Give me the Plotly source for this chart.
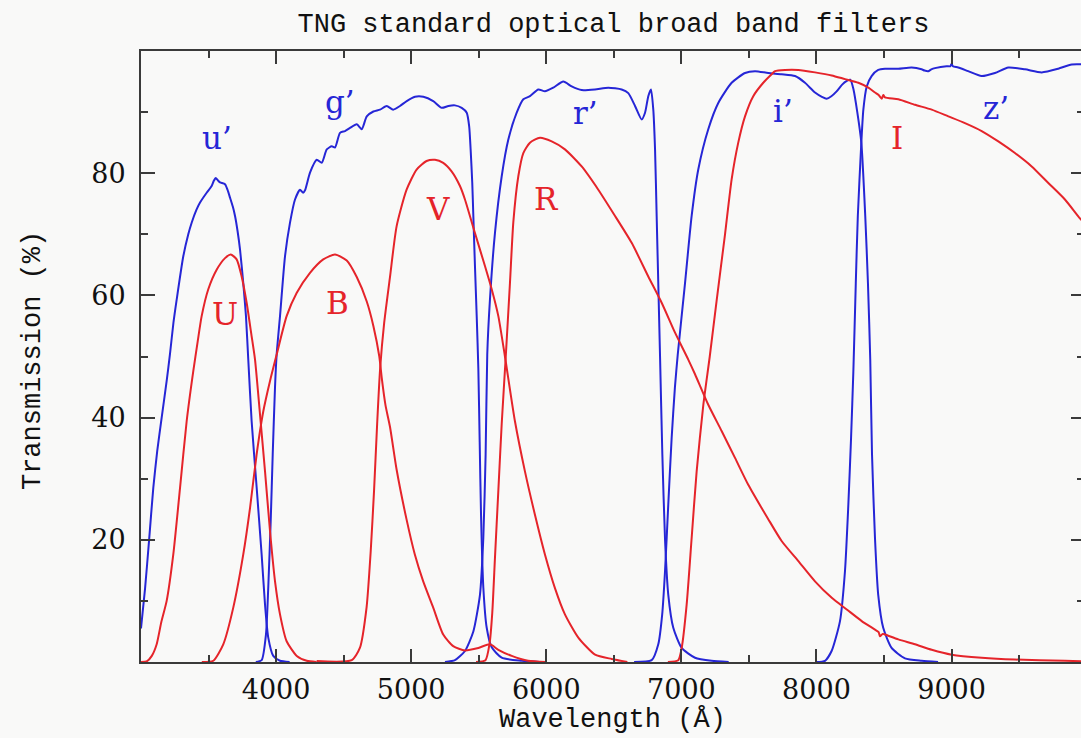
import plotly.graph_objects as go

# ---------------- data (wavelength in Angstrom, transmission in %) ----------------
u_prime_wl = [3000, 3030, 3060, 3091, 3120, 3153, 3190, 3215, 3240, 3264, 3313, 3350, 3375, 3410, 3437,
              3486, 3523, 3540, 3553, 3570, 3585, 3622, 3640, 3659, 3680, 3696, 3715, 3733, 3757, 3777,
              3794, 3819, 3856, 3893, 3918, 3942, 3979, 4029, 4100]
u_prime_t = [5.5, 12, 20, 28.5, 34.5, 40, 46, 50.5, 55.5, 59.3, 66.4, 70, 71.9, 74, 75.2,
             76.8, 77.9, 78.8, 79.2, 78.8, 78.5, 78.2, 77.3, 76, 74.5, 73, 70.5, 67.5, 62, 56.6,
             49.5, 39.4, 28.6, 17.6, 9.4, 4, 1, 0.2, 0]

g_prime_wl = [3850, 3893, 3925, 3942, 3960, 3975, 3992, 4004, 4029, 4066, 4103, 4140, 4177, 4200, 4214,
              4251, 4301, 4338, 4375, 4412, 4436, 4473, 4510, 4547, 4597, 4634, 4671, 4720, 4769, 4819,
              4867, 4917, 4967, 5028, 5090, 5163, 5226, 5275, 5324, 5374, 5411, 5429, 5440, 5452, 5460,
              5472, 5485, 5497, 5507, 5517, 5534, 5559, 5596, 5670, 5818, 5950]
g_prime_t = [0, 0.3, 4.5, 12.2, 23, 34, 45, 50.3, 56.6, 66.4, 71.9, 75.7, 77.3, 76.8, 77.2,
             80.1, 82.2, 81.7, 83.9, 84.4, 84.2, 86.6, 86.9, 87.4, 88, 87.2, 89.3, 90.1, 90.4, 91,
             90.4, 91, 91.8, 92.5, 92.5, 91.8, 90.7, 91, 91.1, 90.7, 89.9, 87.7, 83.9, 78.4, 73,
             64.8, 56.6, 48, 36, 24, 12.2, 5.6, 2.4, 0.7, 0.2, 0]

r_prime_wl = [5250, 5324, 5398, 5460, 5509, 5534, 5551, 5563, 5583, 5620, 5670, 5719, 5781, 5830, 5879,
              5941, 5990, 6052, 6126, 6188, 6262, 6360, 6459, 6558, 6607, 6657, 6706, 6731, 6755, 6775,
              6792, 6805, 6817, 6829, 6842, 6859, 6879, 6903, 6940, 7002, 7101, 7224, 7350]
r_prime_t = [0, 0.3, 1.8, 5, 11, 20.4, 34, 50.3, 59.3, 70.2, 79.5, 85.5, 89.9, 92.1, 92.6,
             93.7, 93.4, 94, 95, 94.2, 93.6, 93.7, 94, 93.7, 93.1, 91, 88.8, 89.9, 92.6, 93.7,
             90.4, 83.9, 73, 62, 50, 34, 20, 11, 5.6, 2.3, 0.7, 0.2, 0]

i_prime_wl = [6650, 6780, 6829, 6858, 6879, 6903, 6928, 6952, 6973, 7027, 7076, 7125, 7199, 7273, 7372,
              7471, 7545, 7643, 7742, 7841, 7915, 7989, 8040, 8075, 8110, 8149, 8190, 8225, 8250, 8274,
              8302, 8332, 8361, 8381, 8398, 8411, 8433, 8457, 8494, 8556, 8655, 8779, 8900]
i_prime_t = [0, 0.3, 2.9, 7.8, 14.9, 25.8, 36.7, 44.9, 50.3, 62, 73, 80.6, 87.2, 91.5, 94.8,
             96.4, 96.7, 96.4, 96.2, 95.9, 94.8, 93.2, 92.5, 92.2, 92.6, 93.4, 94.5, 95.1, 95.3, 93.7,
             90, 85, 73, 62, 49.5, 34, 20.3, 11, 5.6, 2.3, 0.6, 0.2, 0]

z_prime_wl = [8000, 8063, 8112, 8174, 8211, 8236, 8256, 8273, 8291, 8306, 8332, 8347, 8372, 8408, 8457,
              8507, 8606, 8704, 8778, 8800, 8827, 8850, 8877, 8963, 8990, 9000, 9010, 9049, 9123, 9222,
              9321, 9420, 9543, 9667, 9790, 9889, 10000]
z_prime_t = [0, 0.2, 1.8, 6.7, 14.9, 25.8, 36.7, 47.6, 62, 73, 85, 90.4, 94.2, 95.9, 96.9,
             97.1, 97.1, 97.3, 97, 96.8, 96.7, 97, 97.2, 97.5, 97.5, 97.9, 97.5, 97.3, 96.7, 95.9,
             96.4, 97.3, 97, 96.5, 97.1, 97.8, 97.8]

U_wl = [3000, 3042, 3080, 3116, 3150, 3190, 3239, 3289, 3338, 3387, 3420, 3449, 3498, 3560, 3622,
        3664, 3708, 3745, 3782, 3819, 3844, 3881, 3918, 3955, 3992, 4029, 4078, 4153, 4227, 4300]
U_t = [0, 0.1, 1, 2.9, 6.5, 10, 17.6, 28.5, 39.4, 47.6, 52.5, 56.6, 61, 64.2, 66.1,
       66.7, 65.9, 63.1, 58.8, 53.3, 49.5, 40.5, 31.2, 21.4, 13.2, 7.8, 3.4, 1, 0.2, 0]

B_wl = [3450, 3535, 3609, 3683, 3757, 3807, 3856, 3905, 3955, 4004, 4078, 4152, 4251, 4349, 4436,
        4523, 4597, 4671, 4720, 4764, 4782, 4810, 4843, 4892, 4966, 5027, 5089, 5163, 5237, 5311,
        5398, 5497, 5583, 5645, 5744, 5865, 6000]
B_t = [0, 0.2, 2.9, 8.9, 17.6, 25.2, 34, 41, 46, 50.3, 56.6, 60.4, 63.7, 65.9, 66.7,
       65.7, 63, 59, 55, 50, 46.5, 42, 38.5, 31.5, 23.3, 17.6, 13.2, 8.9, 4.5, 2.6,
       1.9, 2.3, 2.9, 2.0, 1.0, 0.2, 0]

V_wl = [4300, 4560, 4620, 4670, 4700, 4725, 4748, 4770, 4800, 4843, 4892, 4966, 5040, 5114, 5176,
        5237, 5299, 5361, 5398, 5472, 5546, 5596, 5645, 5694, 5768, 5842, 5916, 5990, 6064, 6138,
        6237, 6361, 6484, 6600]
V_t = [0.15, 0.3, 2.3, 9, 18, 28, 39, 48, 55.5, 63, 71.3, 77.3, 80.6, 82, 82.2,
       81.7, 80.3, 77.9, 75.7, 70.2, 64.8, 61, 56.6, 50, 39.4, 31.2, 24.1, 17.6, 12.1, 7.8,
       4, 1.2, 0.5, 0]

R_wl = [5480, 5550, 5580, 5600, 5620, 5645, 5670, 5700, 5731, 5756, 5793, 5830, 5879, 5953, 6040,
        6138, 6262, 6385, 6509, 6632, 6755, 6854, 6953, 7051, 7101, 7199, 7298, 7397, 7495, 7594,
        7640, 7742, 7866, 7989, 8113, 8224, 8335, 8433, 8460, 8470, 8490, 8507, 8606, 8729, 8853,
        9001, 9223, 9469, 9839, 10000]
R_t = [0, 0.3, 3, 8, 17, 28, 39, 50, 62, 72, 79.5, 83.3, 85, 85.8, 85.2,
       83.9, 81.1, 77.3, 73, 68.6, 63.1, 58.8, 53.9, 49.5, 47.1, 42.1, 37.8, 33.4, 29, 25.2,
       23.5, 19.8, 16.5, 13.2, 10.5, 8.6, 6.7, 5.3, 4.9, 4.2, 4.6, 4.5, 3.7, 2.9, 2,
       1.2, 0.7, 0.4, 0.2, 0.1]

I_wl = [6900, 6977, 7002, 7039, 7076, 7113, 7162, 7210, 7260, 7323, 7372, 7421, 7471, 7532, 7606,
        7668, 7693, 7767, 7865, 7989, 8113, 8211, 8310, 8384, 8433, 8460, 8483, 8495, 8507, 8606,
        8729, 8853, 8976, 9099, 9223, 9346, 9469, 9593, 9716, 9839, 9958, 10000]
I_t = [0, 0.3, 2.3, 9.4, 20.3, 31.2, 42, 50, 59, 70, 79, 85, 89.3, 92.6, 94.8,
       96.2, 96.7, 96.9, 96.9, 96.5, 96, 95.4, 94.8, 94, 93.2, 92.8, 92.2, 92.8, 92.4, 92.1,
       91.2, 90.4, 89.3, 88.2, 86.9, 85.2, 83.3, 81.1, 78.4, 75.7, 72.4, 71.5]

# filter label text and where it sits (wavelength, transmission)
sloan_labels = ["u\u2019", "g\u2019", "r\u2019", "i\u2019", "z\u2019"]
sloan_label_wl = [3560, 4473, 6287, 7752, 9329]
sloan_label_t = [85.8, 91.7, 89.9, 90.2, 90.7]
johnson_labels = ["U", "B", "V", "R", "I"]
johnson_label_wl = [3622, 4458, 5198, 5998, 8596]
johnson_label_t = [56.9, 58.8, 74.1, 75.7, 85.8]

x_major = [4000, 5000, 6000, 7000, 8000, 9000]
x_minor = [3500, 4500, 5500, 6500, 7500, 8500, 9500]
y_major = [20, 40, 60, 80]
y_minor = [10, 30, 50, 70, 90]

# ---------------- styling ----------------
BLUE = "#2626d6"
RED = "#e5242a"
AXC = "#3a3a3a"
BG = "#f9f9f8"
MONO = "Liberation Mono"
SERIF = "DejaVu Serif"

fig = go.Figure()

for wl, t in [(u_prime_wl, u_prime_t), (g_prime_wl, g_prime_t), (r_prime_wl, r_prime_t),
              (i_prime_wl, i_prime_t), (z_prime_wl, z_prime_t)]:
    fig.add_trace(go.Scatter(x=wl, y=t, mode="lines",
                             line=dict(color=BLUE, width=2, shape="spline", smoothing=0.6),
                             showlegend=False, hoverinfo="skip"))
for wl, t in [(U_wl, U_t), (B_wl, B_t), (V_wl, V_t), (R_wl, R_t), (I_wl, I_t)]:
    fig.add_trace(go.Scatter(x=wl, y=t, mode="lines",
                             line=dict(color=RED, width=2, shape="spline", smoothing=0.6),
                             showlegend=False, hoverinfo="skip"))
# empty trace so the right-hand tick axis is drawn
fig.add_trace(go.Scatter(x=[], y=[], yaxis="y2", showlegend=False, hoverinfo="skip"))

annotations = []
for txt, wl, t in zip(sloan_labels, sloan_label_wl, sloan_label_t):
    annotations.append(dict(x=wl, y=t, xref="x", yref="y", text=txt, showarrow=False,
                            font=dict(family=SERIF, size=31, color=BLUE)))
for txt, wl, t in zip(johnson_labels, johnson_label_wl, johnson_label_t):
    annotations.append(dict(x=wl, y=t, xref="x", yref="y", text=txt, showarrow=False,
                            font=dict(family=SERIF, size=31, color=RED)))
annotations.append(dict(x=0.502, y=-0.095, xref="paper", yref="paper", text="Wavelength (\u00c5)",
                        showarrow=False, xanchor="center", yanchor="middle",
                        font=dict(family=MONO, size=27, color="#111111")))
annotations.append(dict(x=-0.115, y=0.494, xref="paper", yref="paper", text="Transmission (%)",
                        showarrow=False, xanchor="center", yanchor="middle", textangle=-90,
                        font=dict(family=MONO, size=27, color="#111111")))

fig.update_layout(
    width=1081, height=738,
    margin=dict(l=141, r=0, t=51, b=76),
    paper_bgcolor=BG, plot_bgcolor=BG,
    title=dict(text="TNG standard optical broad band filters", xref="container", yref="container",
               x=0.5675, y=0.969, xanchor="center", yanchor="middle",
               font=dict(family=MONO, size=27, color="#111111")),
    annotations=annotations,
    xaxis=dict(range=[3000, 9958], showgrid=False, zeroline=False, automargin=False,
               showline=True, linecolor=AXC, linewidth=2, mirror="ticks",
               tickmode="array", tickvals=x_major, ticks="inside", ticklen=13, tickwidth=2,
               tickcolor=AXC, ticklabelstandoff=3,
               tickfont=dict(family=SERIF, size=27, color="#111111"),
               minor=dict(tickmode="array", tickvals=x_minor, ticks="inside", ticklen=7,
                          tickwidth=2, tickcolor=AXC, showgrid=False)),
    yaxis=dict(range=[0, 100], showgrid=False, zeroline=False, automargin=False,
               showline=True, linecolor=AXC, linewidth=2, mirror=False,
               tickmode="array", tickvals=y_major, ticks="inside", ticklen=14, tickwidth=2,
               tickcolor=AXC, ticklabelstandoff=8,
               tickfont=dict(family=SERIF, size=27, color="#111111"),
               minor=dict(tickmode="array", tickvals=y_minor, ticks="inside", ticklen=7,
                          tickwidth=2, tickcolor=AXC, showgrid=False)),
    yaxis2=dict(range=[0, 100], overlaying="y", side="right", showgrid=False, zeroline=False,
                showline=False, showticklabels=False, automargin=False,
                tickmode="array", tickvals=y_major, ticks="inside", ticklen=10, tickwidth=2,
                tickcolor=AXC,
                minor=dict(tickmode="array", tickvals=y_minor, ticks="inside", ticklen=4,
                           tickwidth=2, tickcolor=AXC, showgrid=False)),
)

fig.write_html("out.html", config={"displayModeBar": False},
               post_script="document.body.style.margin='0';document.body.style.overflow='hidden';")
